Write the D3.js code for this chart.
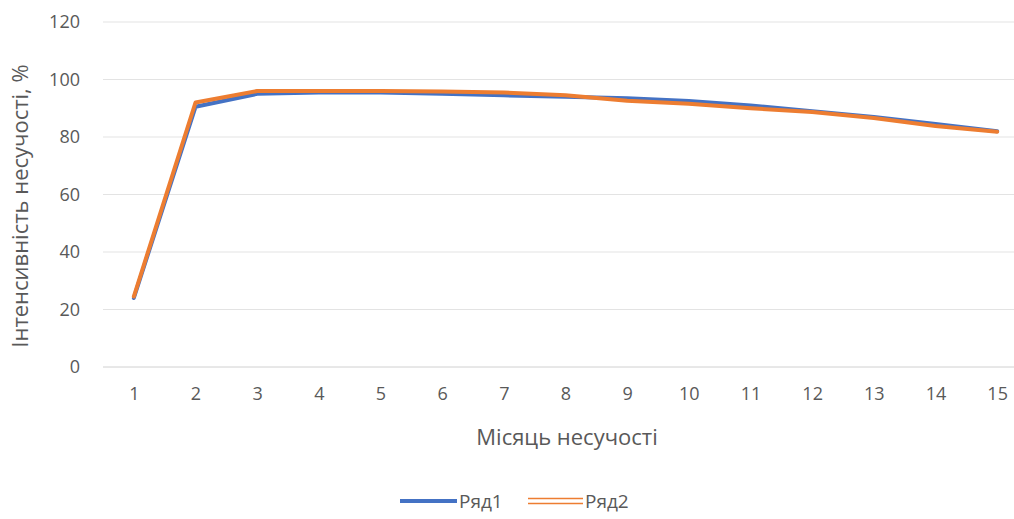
<!DOCTYPE html>
<html>
<head>
<meta charset="utf-8">
<script src="https://cdn.jsdelivr.net/npm/d3@7/dist/d3.min.js"></script>
<style>
  html, body { margin: 0; padding: 0; background: #fff; }
  svg { display: block; }
  text { font-family: "Open Sans", "Liberation Sans", sans-serif; fill: #595959; }
</style>
</head>
<body>
<svg id="chart" width="1014" height="519"></svg>
<script>
// Months of pregnancy and laying intensity for two series
const months = [1, 2, 3, 4, 5, 6, 7, 8, 9, 10, 11, 12, 13, 14, 15];
const series1 = [24, 90.5, 95, 95.5, 95.5, 95, 94.5, 94, 93.5, 92.5, 91, 89, 87, 84.5, 82];
const series2 = [24.5, 92, 96, 96, 96, 95.8, 95.5, 94.5, 92.6, 91.6, 90, 88.7, 86.6, 83.8, 81.8];
const yTicks = [0, 20, 40, 60, 80, 100, 120];
const seriesNames = ["Ряд1", "Ряд2"];
const colors = ["#4472C4", "#ED7D31"];

const svg = d3.select("#chart");

const x = d3.scalePoint().domain(months).range([103, 1028]).padding(0.5);
const y = d3.scaleLinear().domain([0, 120]).range([367, 22]);

// horizontal gridlines
svg.append("g")
  .selectAll("line")
  .data(yTicks)
  .join("line")
  .attr("x1", 103).attr("x2", 1014)
  .attr("y1", d => y(d)).attr("y2", d => y(d))
  .attr("stroke", d => d === 0 ? "#d0d0d0" : "#e3e3e3")
  .attr("stroke-width", 1);

// y axis labels
const yAxis = d3.axisLeft(y).tickValues(yTicks).tickSize(0).tickPadding(0);
const gy = svg.append("g").attr("transform", "translate(80,0)").call(yAxis);
gy.select(".domain").remove();
gy.selectAll("text").attr("font-size", 18).attr("fill", "#595959")
  .style("font-family", "'Open Sans', 'Liberation Sans', sans-serif");

// x axis labels
const xAxis = d3.axisBottom(x).tickSize(0).tickPadding(0);
const gx = svg.append("g").attr("transform", "translate(0,387)").call(xAxis);
gx.select(".domain").remove();
gx.selectAll("text").attr("font-size", 18).attr("fill", "#595959")
  .style("font-family", "'Open Sans', 'Liberation Sans', sans-serif");

// axis titles
svg.append("text")
  .attr("x", 567).attr("y", 445)
  .attr("text-anchor", "middle")
  .attr("font-size", 22)
  .text("Місяць несучості");

svg.append("text")
  .attr("transform", "translate(28,206) rotate(-90)")
  .attr("text-anchor", "middle")
  .attr("font-size", 22)
  .text("Інтенсивність несучості, %");

// series lines
const line = d3.line()
  .x((d, i) => x(months[i]))
  .y(d => y(d));

[series1, series2].forEach((vals, i) => {
  svg.append("path")
    .datum(vals)
    .attr("d", line)
    .attr("fill", "none")
    .attr("stroke", colors[i])
    .attr("stroke-width", 4)
    .attr("stroke-linejoin", "round")
    .attr("stroke-linecap", "round");
});

// legend
const legend = svg.append("g");
const lx = [400, 528];
seriesNames.forEach((name, i) => {
  const g = legend.append("g").attr("transform", `translate(${lx[i]},501)`);
  if (i === 0) {
    g.append("line").attr("x1", 0).attr("x2", 57).attr("y1", 0).attr("y2", 0)
      .attr("stroke", colors[i]).attr("stroke-width", 4);
  } else {
    [-2.5, 2.5].forEach(o => {
      g.append("line").attr("x1", 0).attr("x2", 55).attr("y1", o).attr("y2", o)
        .attr("stroke", colors[i]).attr("stroke-width", 1.5);
    });
  }
  g.append("text").attr("x", i === 0 ? 59 : 57).attr("y", 7)
    .attr("font-size", 19)
    .text(name);
});
</script>
</body>
</html>
